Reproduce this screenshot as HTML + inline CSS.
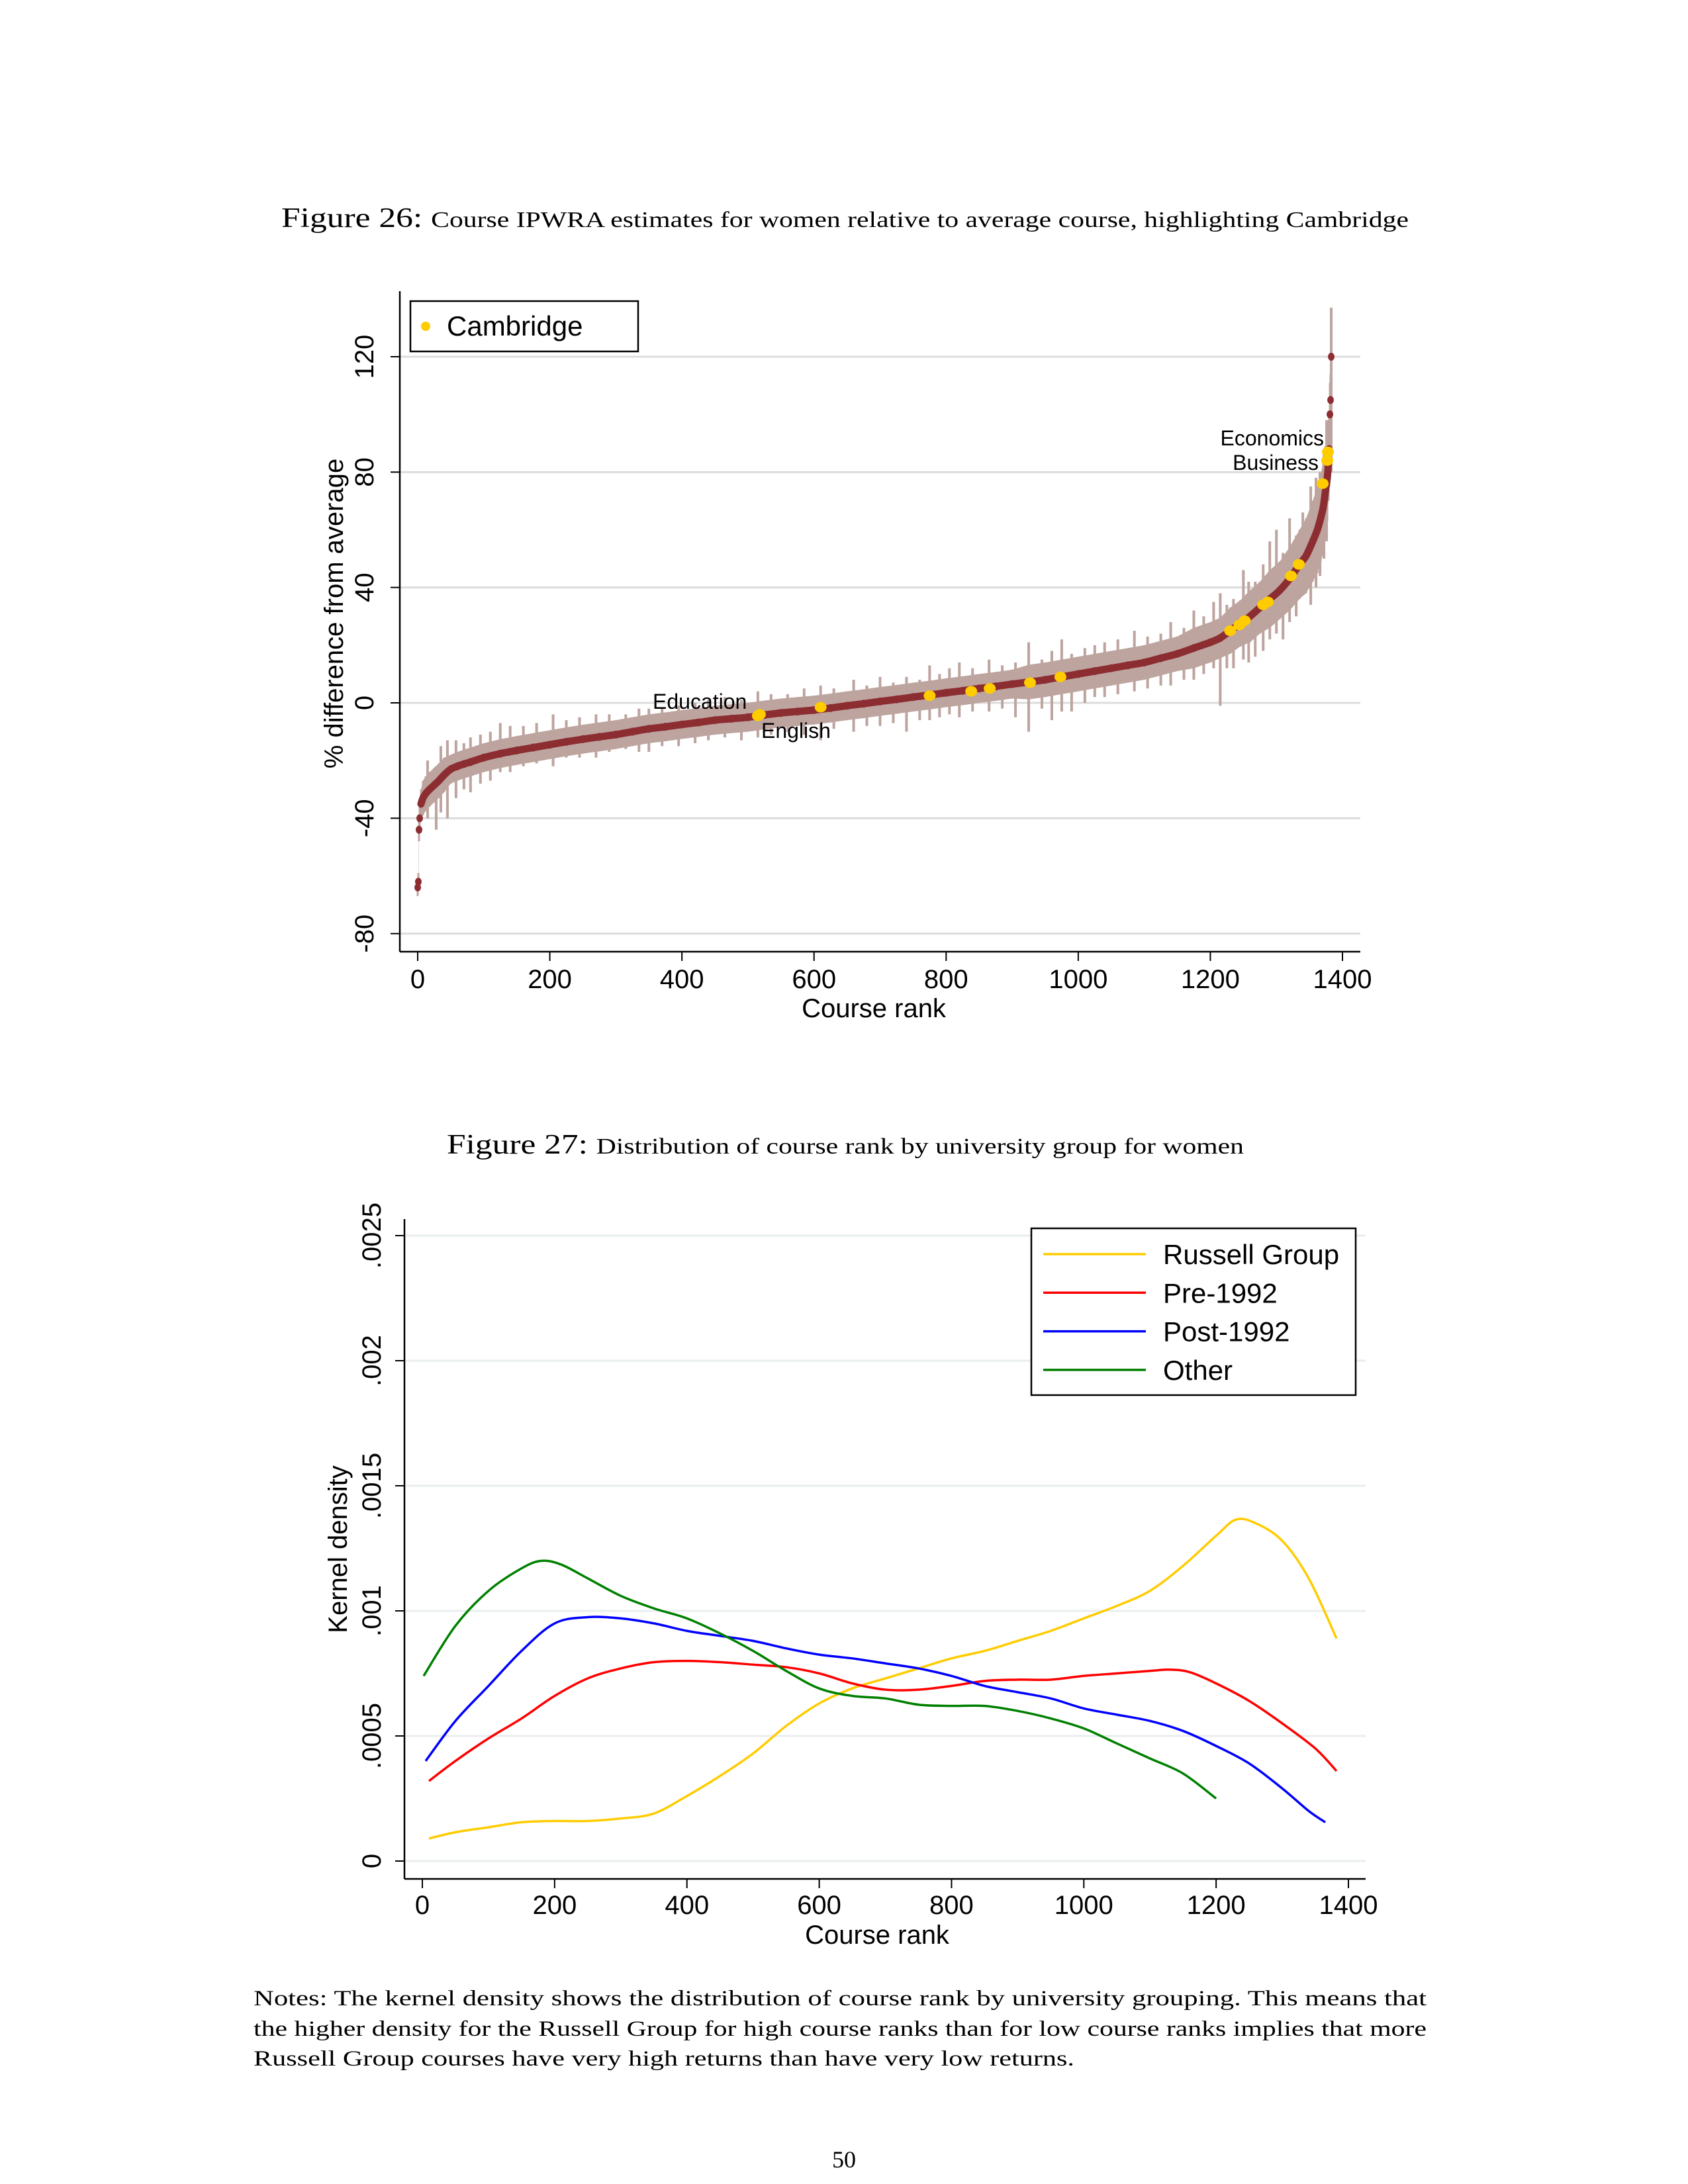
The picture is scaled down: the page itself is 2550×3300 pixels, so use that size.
<!DOCTYPE html>
<html><head><meta charset="utf-8"><style>
html,body{margin:0;padding:0;background:#fff;}
svg{display:block;}
text{font-family:"Liberation Sans",Arial,sans-serif;fill:#000;}
.serif{font-family:"Liberation Serif","DejaVu Serif",serif;}
</style></head><body>
<svg id="page" width="2550" height="3300" viewBox="0 0 2550 3300" xmlns="http://www.w3.org/2000/svg">
<text class="serif" x="425" y="343" font-size="42" textLength="1703" lengthAdjust="spacingAndGlyphs">Figure 26: <tspan font-size="34">Course IPWRA estimates for women relative to average course, highlighting Cambridge</tspan></text>
<g id="chart1"></g>
<text class="serif" x="675" y="1743" font-size="42" textLength="1204" lengthAdjust="spacingAndGlyphs">Figure 27: <tspan font-size="34">Distribution of course rank by university group for women</tspan></text>
<g id="chart2"></g>
<g>
<text class="serif" x="383" y="3030" font-size="33" textLength="1772" lengthAdjust="spacingAndGlyphs">Notes: The kernel density shows the distribution of course rank by university grouping. This means that</text>
<text class="serif" x="383" y="3076" font-size="33" textLength="1772" lengthAdjust="spacingAndGlyphs">the higher density for the Russell Group for high course ranks than for low course ranks implies that more</text>
<text class="serif" x="383" y="3121" font-size="33" textLength="1240" lengthAdjust="spacingAndGlyphs">Russell Group courses have very high returns than have very low returns.</text>
</g>
<text class="serif" x="1275" y="3275" font-size="36" text-anchor="middle">50</text>
</svg>
<script>
// ===== Chart 1 data =====
const ranks = [0,1,2,3,5,8,12,18,25,32,40,50,60,70,80,100,125,150,175,200,225,250,275,300,325,350,375,400,425,450,475,500,525,550,575,600,625,650,675,700,725,750,775,800,825,850,875,900,925,950,975,1000,1025,1050,1075,1100,1125,1150,1175,1200,1215,1230,1245,1260,1275,1290,1305,1320,1335,1345,1355,1362,1367,1371,1374,1377,1379,1380,1381,1382,1383];
const estimates = [-64,-62,-44,-40,-35,-33,-31.5,-30,-28.5,-27,-25,-23,-22,-21.2,-20.5,-19,-17.6,-16.5,-15.5,-14.5,-13.5,-12.6,-11.8,-11,-10,-9,-8.3,-7.5,-6.8,-6,-5.5,-5,-4.2,-3.5,-3,-2.5,-1.8,-1,-0.3,0.5,1.2,2,2.7,3.5,4.2,5,5.7,6.5,7.2,8,9,10,11,12,13,14,15.5,17,19,21,22.5,25,27.5,30,33,36,39,43,48,51,56,60,64,68,73,78,84,88,100,105,120];
const ciHalf = [3,3,4,4,5,6,6,6,6,6,6,5,5,5,5,5,5,5,5,5,5,5,5,5,5,5,5,5,5,5,5,5,5,5,5,5,5,5,5,5,5,5,5,5,5,5,5,5,6,6,6,6,6,6,6,6,6,6,7,7,7,8,8,9,9,10,10,11,12,13,14,15,15,16,16,15,14,13,11,9,16];
const spikeRanks = [15,28,35,45,58,70,80,95,110,125,140,160,180,205,225,245,270,290,315,335,350,370,395,420,440,465,490,515,535,560,585,610,630,660,680,700,720,740,760,775,790,805,820,840,865,885,905,925,945,960,975,990,1010,1025,1040,1060,1085,1105,1125,1140,1160,1175,1190,1205,1215,1225,1235,1250,1258,1268,1280,1290,1300,1310,1320,1330,1340,1352,1360,1366,1372,1376,1383];
const spikeLow = [-40,-44,-38,-40,-33,-30,-31,-28,-27,-24,-24,-22,-21,-22,-19,-19,-19,-17,-16,-17,-17,-15,-15,-14,-13,-12,-13,-12,-11,-10,-11,-13,-9,-10,-8,-8,-7,-10,-6,-6,-5,-4,-5,-3,-3,-2,-5,-10,-2,-6,-3,-3,0,2,2,3,4,5,6,6,8,8,10,12,-1,12,12,15,14,16,18,22,24,22,28,30,40,34,40,44,50,56,80];
const spikeHigh = [-20,-22,-15,-13,-13,-14,-12,-11,-10,-7,-8,-8,-7,-4,-6,-5,-4,-4,-4,-2,-2,-2,-1,0,1,2,1,4,3,3,5,6,5,8,6,9,7,9,8,13,10,12,14,12,15,13,14,21,15,18,22,17,19,20,21,22,25,23,24,28,26,32,30,35,38,34,36,46,42,42,48,56,60,52,64,58,66,75,78,80,88,98,137];
const camRanks = [515,518,610,775,838,866,927,973,1230,1244,1252,1280,1287,1322,1334,1370,1377,1378];
const camValues = [-4.5,-4,-1.5,2.5,4,5,7,9,25,27,28.5,34,35,44,48,76,84,87];
const yTicks1 = [-80,-40,0,40,80,120];
const xTicks = [0,200,400,600,800,1000,1200,1400];

// ===== Chart 2 data =====
const rgX = [10,50,100,150,200,250,300,350,400,450,500,550,600,650,700,750,800,850,900,950,1000,1050,1100,1150,1200,1230,1260,1300,1340,1382];
const rgY = [0.9,1.15,1.35,1.55,1.6,1.6,1.7,1.9,2.6,3.4,4.3,5.4,6.3,6.9,7.3,7.7,8.1,8.4,8.8,9.2,9.7,10.2,10.8,11.8,13.0,13.65,13.5,12.8,11.3,8.9];
const preX = [10,50,100,150,200,250,300,350,400,450,500,550,600,650,700,750,800,850,900,950,1000,1050,1100,1130,1160,1200,1250,1300,1350,1382];
const preY = [3.2,4.0,4.9,5.7,6.6,7.3,7.7,7.95,8.0,7.95,7.85,7.75,7.5,7.1,6.85,6.85,7.0,7.2,7.25,7.25,7.4,7.5,7.6,7.65,7.55,7.1,6.4,5.5,4.5,3.6];
const postX = [5,50,100,150,200,250,300,350,400,450,500,550,600,650,700,750,800,850,900,950,1000,1050,1100,1150,1200,1250,1300,1340,1365];
const postY = [4.0,5.6,7.0,8.4,9.5,9.75,9.7,9.5,9.2,9.0,8.8,8.5,8.25,8.1,7.9,7.7,7.4,7.0,6.75,6.5,6.1,5.85,5.6,5.2,4.6,3.9,2.9,2.0,1.55];
const othX = [2,50,100,150,180,210,250,300,350,400,450,500,550,600,650,700,750,800,850,900,950,1000,1050,1100,1150,1200];
const othY = [7.4,9.4,10.8,11.7,12.0,11.85,11.3,10.6,10.1,9.7,9.1,8.4,7.6,6.9,6.6,6.5,6.25,6.2,6.2,6.0,5.7,5.3,4.7,4.1,3.5,2.5];
const yTicks2 = [0,0.0005,0.001,0.0015,0.002,0.0025];
const yTickLabels2 = ["0",".0005",".001",".0015",".002",".0025"];
const seriesNames = ["Russell Group","Pre-1992","Post-1992","Other"];

const NS="http://www.w3.org/2000/svg";
function mk(parent,tag,attrs){const e=document.createElementNS(NS,tag);for(const k in attrs)e.setAttribute(k,attrs[k]);parent.appendChild(e);return e;}
// smooth path (Catmull-Rom)
function smooth(pts){let d=`M${pts[0][0]},${pts[0][1]}`;for(let i=0;i<pts.length-1;i++){const p0=pts[Math.max(0,i-1)],p1=pts[i],p2=pts[i+1],p3=pts[Math.min(pts.length-1,i+2)];const c1=[p1[0]+(p2[0]-p0[0])/6,p1[1]+(p2[1]-p0[1])/6],c2=[p2[0]-(p3[0]-p1[0])/6,p2[1]-(p3[1]-p1[1])/6];d+=` C${c1[0]},${c1[1]} ${c2[0]},${c2[1]} ${p2[0]},${p2[1]}`;}return d;}

// ---- Chart 1 ----
const g1=document.getElementById('chart1');
const x1=r=>631+r*(2028-631)/1400;
const y1=v=>1062-v*(1062-539)/120;
yTicks1.forEach(t=>{
  const gl=mk(g1,'line',{x1:604,x2:2055,y1:y1(t),y2:y1(t),stroke:'#dcdcdc','stroke-width':3});
  
  
  mk(g1,'line',{x1:590,x2:604,y1:y1(t),y2:y1(t),stroke:'#000','stroke-width':2});
  const tl=mk(g1,'text',{x:0,y:0,'font-size':40,'text-anchor':'middle',transform:`translate(564,${y1(t)}) rotate(-90)`});
  tl.textContent=t;
  
  
});
let bandPts=ranks.map((r,i)=>`${x1(r)},${y1(estimates[i]+ciHalf[i])}`);
for(let i=ranks.length-1;i>=0;i--)bandPts.push(`${x1(ranks[i])},${y1(estimates[i]-ciHalf[i])}`);
const band=mk(g1,'polygon',{points:bandPts.join(' '),fill:'#bda49f'});


ranks.forEach((r,i)=>{
  const eb=mk(g1,'line',{x1:x1(r),x2:x1(r),y1:y1(estimates[i]-ciHalf[i]),y2:y1(estimates[i]+ciHalf[i]),stroke:'#bda49f','stroke-width':3});
  
  
});
spikeRanks.forEach((r,i)=>{
  const sp=mk(g1,'line',{x1:x1(r),x2:x1(r),y1:y1(spikeLow[i]),y2:y1(spikeHigh[i]),stroke:'#bda49f','stroke-width':4});
  
  
});
const lineIdx=ranks.map((r,i)=>i).filter(i=>i>=4&&i<=ranks.length-5);
const pl=mk(g1,'path',{d:smooth(lineIdx.map(i=>[x1(ranks[i]),y1(estimates[i])])),fill:'none',stroke:'#8c2d31','stroke-width':11,'stroke-linejoin':'round','stroke-linecap':'round'});


ranks.forEach((r,i)=>{
  const d=mk(g1,'ellipse',{cx:x1(r),cy:y1(estimates[i]),rx:5,ry:6,fill:'#8c2d31'});
  
  
});
camRanks.forEach((r,i)=>{
  const d=mk(g1,'ellipse',{cx:x1(r),cy:y1(camValues[i]),rx:9,ry:8,fill:'#ffcc00'});
  
  
});
[['Economics',2000,673,'end'],['Business',1992,710,'end'],['Education',986,1071,'start'],['English',1150,1115,'start']].forEach(a=>{
  const t=mk(g1,'text',{x:a[1],y:a[2],'font-size':32,'text-anchor':a[3]});
  t.textContent=a[0];
  
  
});
mk(g1,'line',{x1:604,x2:604,y1:440,y2:1438,stroke:'#000','stroke-width':2.5});
mk(g1,'line',{x1:604,x2:2055,y1:1438,y2:1438,stroke:'#000','stroke-width':2.5});
xTicks.forEach(t=>{
  mk(g1,'line',{x1:x1(t),x2:x1(t),y1:1438,y2:1452,stroke:'#000','stroke-width':2});
  const tl=mk(g1,'text',{x:x1(t),y:1493,'font-size':40,'text-anchor':'middle'});
  tl.textContent=t;
  
  
});
const xt1=mk(g1,'text',{x:1320,y:1537,'font-size':40,'text-anchor':'middle'});
xt1.textContent='Course rank';


const yt1=mk(g1,'text',{x:0,y:0,'font-size':40,'text-anchor':'middle',transform:'translate(518,927) rotate(-90)'});
yt1.textContent='% difference from average';


const lg1=mk(g1,'g',{});


mk(lg1,'rect',{x:620,y:455,width:344,height:76,fill:'#fff',stroke:'#000','stroke-width':2.5});
mk(lg1,'ellipse',{cx:643,cy:493,rx:7,ry:7,fill:'#ffcc00'});
const lt1=mk(lg1,'text',{x:675,y:507,'font-size':42});
lt1.textContent='Cambridge';

// ---- Chart 2 ----
const g2=document.getElementById('chart2');
const x2=r=>638+r*(2037-638)/1400;
const y2=d=>2812-d*(2812-1867)/0.0025;
yTicks2.forEach((t,i)=>{
  const gl=mk(g2,'line',{x1:611,x2:2063,y1:y2(t),y2:y2(t),stroke:'#e8eeee','stroke-width':3});
  
  
  mk(g2,'line',{x1:597,x2:611,y1:y2(t),y2:y2(t),stroke:'#000','stroke-width':2});
  const tl=mk(g2,'text',{x:0,y:0,'font-size':40,'text-anchor':'middle',transform:`translate(575,${y2(t)}) rotate(-90)`});
  tl.textContent=yTickLabels2[i];
  
  
});
const cols=['#ffcc00','#ff0000','#0000ff','#008000'];
[[rgX,rgY],[preX,preY],[postX,postY],[othX,othY]].forEach((s,k)=>{
  const p=mk(g2,'path',{d:smooth(s[0].map((r,i)=>[x2(r),y2(s[1][i]*1e-4)])),fill:'none',stroke:cols[k],'stroke-width':3.5,'stroke-linejoin':'round'});
  
  
});
mk(g2,'line',{x1:611,x2:611,y1:1842,y2:2839,stroke:'#000','stroke-width':2.5});
mk(g2,'line',{x1:611,x2:2063,y1:2839,y2:2839,stroke:'#000','stroke-width':2.5});
xTicks.forEach(t=>{
  mk(g2,'line',{x1:x2(t),x2:x2(t),y1:2839,y2:2853,stroke:'#000','stroke-width':2});
  const tl=mk(g2,'text',{x:x2(t),y:2892,'font-size':40,'text-anchor':'middle'});
  tl.textContent=t;
  
  
});
const xt2=mk(g2,'text',{x:1325,y:2937,'font-size':40,'text-anchor':'middle'});
xt2.textContent='Course rank';


const yt2=mk(g2,'text',{x:0,y:0,'font-size':40,'text-anchor':'middle',transform:'translate(524,2341) rotate(-90)'});
yt2.textContent='Kernel density';


const lg2=mk(g2,'g',{});


mk(lg2,'rect',{x:1558,y:1856,width:490,height:252,fill:'#fff',stroke:'#000','stroke-width':2.5});
seriesNames.forEach((n,k)=>{
  const yy=1895+k*58.3;
  const ll=mk(lg2,'line',{x1:1576,x2:1731,y1:yy,y2:yy,stroke:cols[k],'stroke-width':3.5});
  
  
  const lt=mk(lg2,'text',{x:1757,y:yy+15,'font-size':42});
  lt.textContent=n;
  
  
});
</script>
</body></html>
